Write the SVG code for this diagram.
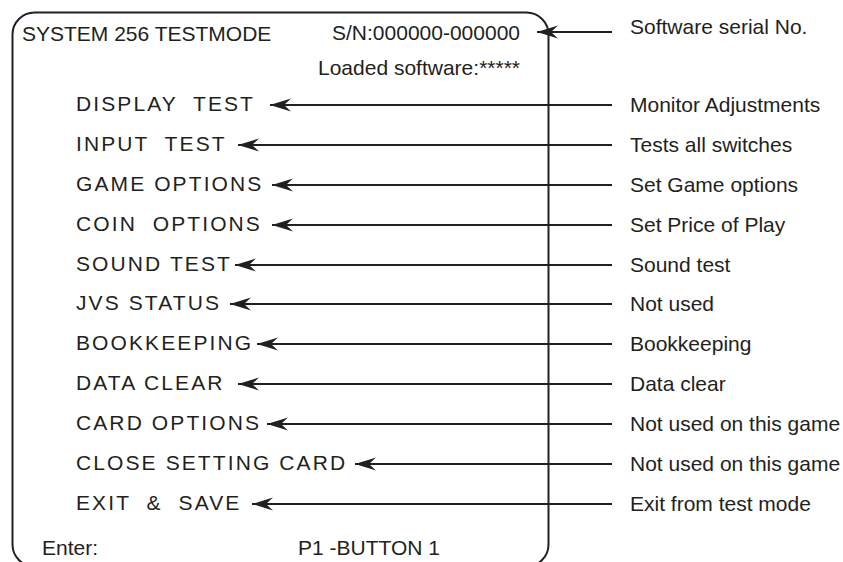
<svg xmlns="http://www.w3.org/2000/svg" width="843" height="562" viewBox="0 0 843 562">
<style>
.t{font-family:"Liberation Sans",Arial,sans-serif;font-size:21px;fill:#231f20}
.m{font-family:"Liberation Sans",Arial,sans-serif;font-size:21px;fill:#231f20;letter-spacing:2.1px;white-space:pre}
.c{stroke:#231f20;stroke-width:2;fill:none;marker-end:url(#ah)}
</style>
<defs>
<marker id="ah" markerUnits="userSpaceOnUse" markerWidth="24" markerHeight="14" viewBox="-21 -7 22 14" refX="0" refY="0" orient="auto">
<path d="M0,0 L-21,-6.5 L-14,0 L-21,6.5 Z" fill="#231f20"/>
</marker>
</defs>
<rect x="12.5" y="12.5" width="536" height="554" rx="22" ry="22" fill="none" stroke="#231f20" stroke-width="2"/>
<g id="header">
<text class="t" x="22" y="41">SYSTEM 256 TESTMODE</text>
<text class="t" x="520" y="40" text-anchor="end">S/N:000000-000000</text>
<text class="t" x="520" y="75" text-anchor="end">Loaded software:*****</text>
</g>
<g id="menu">
<g id="n-display"><text class="m" x="76" y="111" xml:space="preserve">DISPLAY  TEST</text></g>
<g id="n-input"><text class="m" x="76" y="151" xml:space="preserve">INPUT  TEST</text></g>
<g id="n-game"><text class="m" x="76" y="191">GAME OPTIONS</text></g>
<g id="n-coin"><text class="m" x="76" y="231" xml:space="preserve">COIN  OPTIONS</text></g>
<g id="n-sound"><text class="m" x="76" y="271">SOUND TEST</text></g>
<g id="n-jvs"><text class="m" x="76" y="310">JVS STATUS</text></g>
<g id="n-book"><text class="m" x="76" y="350">BOOKKEEPING</text></g>
<g id="n-data"><text class="m" x="76" y="390">DATA CLEAR</text></g>
<g id="n-card"><text class="m" x="76" y="430">CARD OPTIONS</text></g>
<g id="n-close"><text class="m" x="76" y="470">CLOSE SETTING CARD</text></g>
<g id="n-exit"><text class="m" x="76" y="510" xml:space="preserve">EXIT  &amp;  SAVE</text></g>
</g>
<g id="footer">
<text class="t" x="42" y="555">Enter:</text>
<text class="t" x="298" y="555">P1 -BUTTON 1</text>
</g>
<g id="labels">
<g id="l-serial"><text class="t" x="630" y="34">Software serial No.</text></g>
<g id="l-monitor"><text class="t" x="630" y="112">Monitor Adjustments</text></g>
<g id="l-switch"><text class="t" x="630" y="152">Tests all switches</text></g>
<g id="l-gameopt"><text class="t" x="630" y="192">Set Game options</text></g>
<g id="l-price"><text class="t" x="630" y="232">Set Price of Play</text></g>
<g id="l-sound"><text class="t" x="630" y="272">Sound test</text></g>
<g id="l-notused"><text class="t" x="630" y="311">Not used</text></g>
<g id="l-book"><text class="t" x="630" y="351">Bookkeeping</text></g>
<g id="l-clear"><text class="t" x="630" y="391">Data clear</text></g>
<g id="l-card"><text class="t" x="630" y="431">Not used on this game</text></g>
<g id="l-close"><text class="t" x="630" y="471">Not used on this game</text></g>
<g id="l-exit"><text class="t" x="630" y="511">Exit from test mode</text></g>
</g>
<g id="connectors">
<line class="c" x1="612" y1="32" x2="537" y2="32"/>
<line class="c" x1="612" y1="105" x2="270" y2="105"/>
<line class="c" x1="612" y1="145" x2="238" y2="145"/>
<line class="c" x1="612" y1="185" x2="272" y2="185"/>
<line class="c" x1="612" y1="225" x2="272" y2="225"/>
<line class="c" x1="612" y1="265" x2="235" y2="265"/>
<line class="c" x1="612" y1="304" x2="230" y2="304"/>
<line class="c" x1="612" y1="344" x2="257" y2="344"/>
<line class="c" x1="612" y1="384" x2="238" y2="384"/>
<line class="c" x1="612" y1="424" x2="267" y2="424"/>
<line class="c" x1="612" y1="464" x2="355" y2="464"/>
<line class="c" x1="612" y1="504" x2="252" y2="504"/>
</g>
</svg>
